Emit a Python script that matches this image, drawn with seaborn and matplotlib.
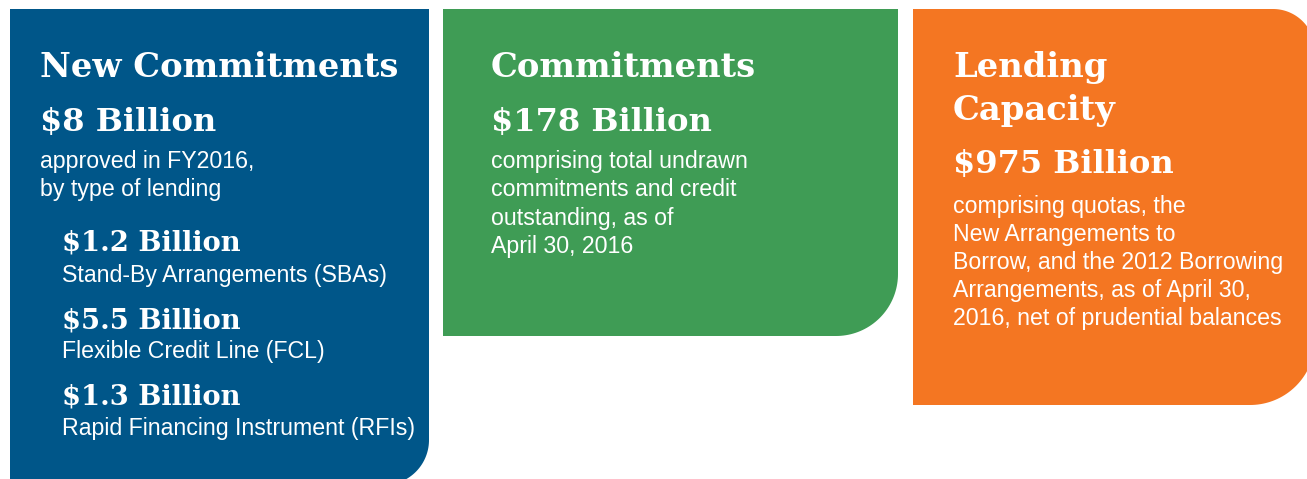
import numpy as np
import matplotlib
matplotlib.use("Agg")
import matplotlib.pyplot as plt
import seaborn as sns
from matplotlib.patches import Polygon

# ---------------- data ----------------
panel_titles = ["New Commitments", "Commitments", "Lending\nCapacity"]
panel_amounts = ["$8 Billion", "$178 Billion", "$975 Billion"]
panel_notes = [
    ["approved in FY2016,", "by type of lending"],
    ["comprising total undrawn", "commitments and credit", "outstanding, as of", "April 30, 2016"],
    ["comprising quotas, the", "New Arrangements to", "Borrow, and the 2012 Borrowing",
     "Arrangements, as of April 30,", "2016, net of prudential balances"],
]
sub_amounts = ["$1.2 Billion", "$5.5 Billion", "$1.3 Billion"]
sub_labels = ["Stand-By Arrangements (SBAs)", "Flexible Credit Line (FCL)",
              "Rapid Financing Instrument (RFIs)"]
panel_colors = ["#005689", "#3F9C55", "#F47622"]

# ---------------- style ----------------
sns.set_theme(style="white")
W, H, DPI = 1307, 479, 100
fig = plt.figure(figsize=(W / DPI, H / DPI), dpi=DPI)
ax = fig.add_axes([0, 0, 1, 1])
ax.set_xlim(0, W)
ax.set_ylim(H, 0)
ax.axis("off")

SERIF = ["DejaVu Serif"]
SANS = ["Liberation Sans", "DejaVu Sans"]


def rounded_box(x0, y0, x1, y1, radii):
    """radii: (tl, tr, br, bl) in pixel units (y downward)."""
    tl, tr, br, bl = radii
    pts = []

    def arc(cx, cy, r, a0, a1):
        if r <= 0:
            return [(cx, cy)]
        t = np.linspace(np.radians(a0), np.radians(a1), 40)
        return list(zip(cx + r * np.cos(t), cy + r * np.sin(t)))

    pts += arc(x0 + tl, y0 + tl, tl, 180, 270)
    pts += arc(x1 - tr, y0 + tr, tr, 270, 360)
    pts += arc(x1 - br, y1 - br, br, 0, 90)
    pts += arc(x0 + bl, y1 - bl, bl, 90, 180)
    return Polygon(pts, closed=True)


boxes = [
    (10, 9, 429, 485, (0, 0, 45, 0)),
    (443, 9, 898, 336, (0, 0, 62, 0)),
    (913, 9, 1315, 405, (0, 42, 65, 0)),
]
for (x0, y0, x1, y1, r), c in zip(boxes, panel_colors):
    p = rounded_box(x0, y0, x1, y1, r)
    p.set_facecolor(c)
    p.set_edgecolor("none")
    ax.add_patch(p)

renderer = fig.canvas.get_renderer()


def fit_size(text, family, weight, target_w):
    t = ax.text(0, 0, text, fontsize=10, family=family, weight=weight)
    w = t.get_window_extent(renderer).width
    t.remove()
    return 10 * target_w / w


title_fs = fit_size("New Commitments", SERIF, "bold", 343) * 1.05
amount_fs = fit_size("$178 Billion", SERIF, "bold", 211) * 1.05
sub_fs = fit_size("$1.2 Billion", SERIF, "bold", 171) * 1.05
body_fs = np.mean([
    fit_size("Rapid Financing Instrument (RFIs)", SANS, "normal", 346),
    fit_size("Borrow, and the 2012 Borrowing", SANS, "normal", 332),
    fit_size("comprising total undrawn", SANS, "normal", 264),
])


def put(x, y, s, fs, family, weight):
    ax.text(x, y, s, fontsize=fs, family=family, weight=weight,
            color="white", va="baseline", ha="left")


# panel 1
put(40, 77, panel_titles[0], title_fs, SERIF, "bold")
put(40, 131, panel_amounts[0], amount_fs, SERIF, "bold")
for s, yb in zip(panel_notes[0], [168, 196]):
    put(40, yb, s, body_fs, SANS, "normal")
for a, lab, ya, yl in zip(sub_amounts, sub_labels, [250, 328, 405], [282, 358, 435]):
    put(62, ya, a, sub_fs, SERIF, "bold")
    put(62, yl, lab, body_fs, SANS, "normal")

# panel 2
put(491, 77, panel_titles[1], title_fs, SERIF, "bold")
put(491, 131, panel_amounts[1], amount_fs, SERIF, "bold")
for s, yb in zip(panel_notes[1], [168, 196, 225, 253]):
    put(491, yb, s, body_fs, SANS, "normal")

# panel 3
for s, yb in zip(panel_titles[2].split("\n"), [77, 120]):
    put(953, yb, s, title_fs, SERIF, "bold")
put(953, 173, panel_amounts[2], amount_fs, SERIF, "bold")
for s, yb in zip(panel_notes[2], [213, 241, 269, 297, 325]):
    put(953, yb, s, body_fs, SANS, "normal")

fig.savefig("out.png", dpi=DPI, facecolor="white")
